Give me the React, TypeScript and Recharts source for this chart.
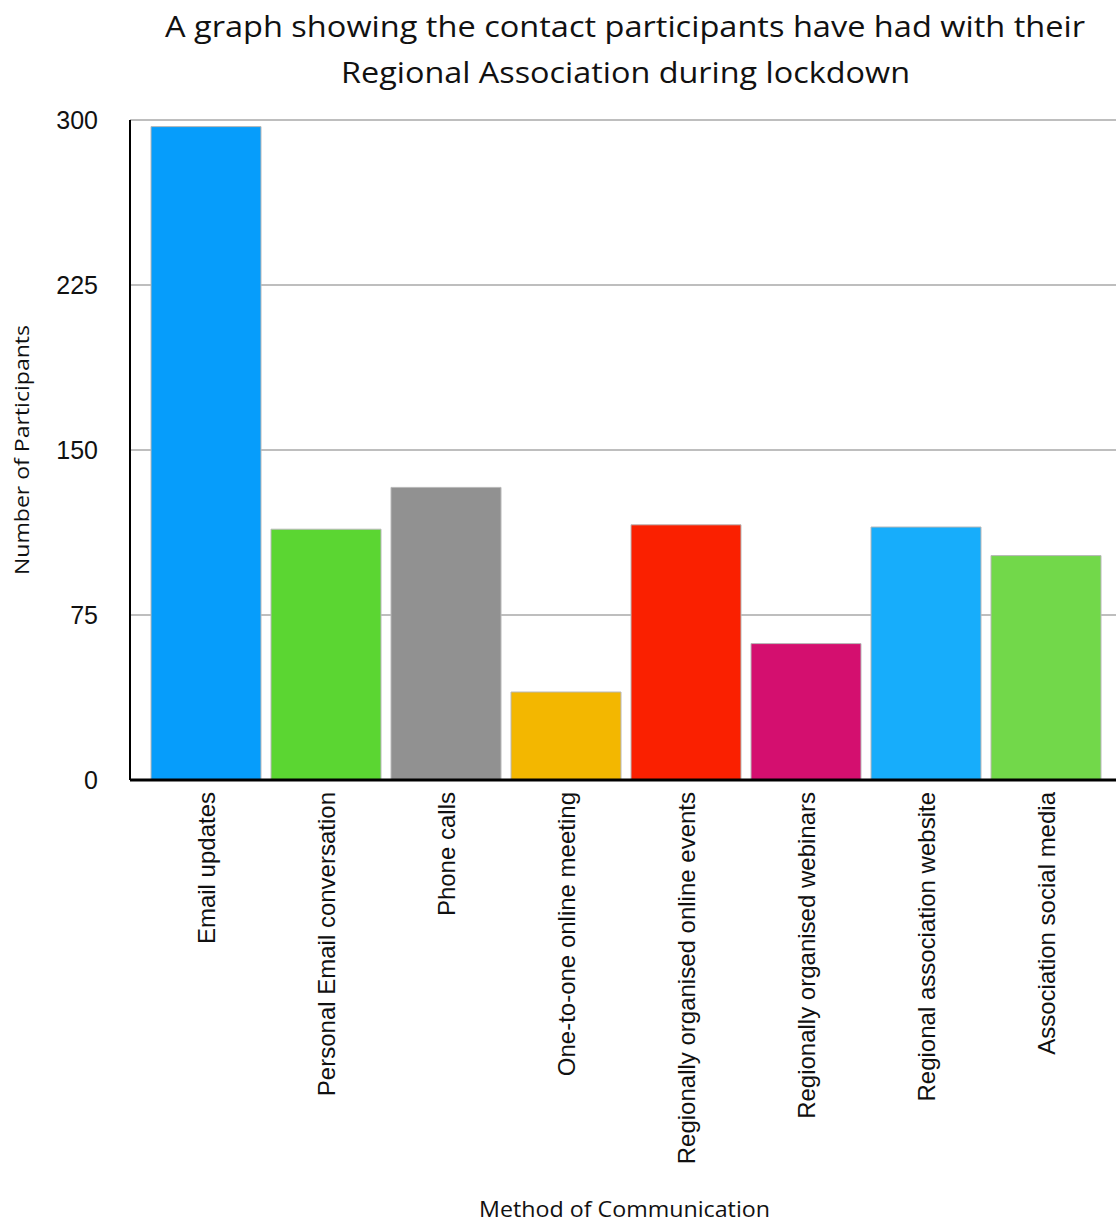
import React from 'react';
import { BarChart, Bar, XAxis, YAxis, CartesianGrid, Cell, Label } from 'recharts';

const categories = [
  'Email updates',
  'Personal Email conversation',
  'Phone calls',
  'One-to-one online meeting',
  'Regionally organised online events',
  'Regionally organised webinars',
  'Regional association website',
  'Association social media',
];
const participants = [297, 114, 133, 40, 116, 62, 115, 102];
const barColors = ['#069dfb', '#5bd632', '#919191', '#f3b700', '#fa2000', '#d40f6f', '#17adfb', '#72d84a'];
const yTicks = [0, 75, 150, 225, 300];
const titleLines = ['A graph showing the contact participants have had with their', 'Regional Association during lockdown'];
const xTitle = 'Method of Communication';
const yTitle = 'Number of Participants';

const data = categories.map((name, i) => ({ name, value: participants[i] }));

const labelFont = '"Open Sans", "Noto Sans", sans-serif';
const tickFont = '"Liberation Sans", Arial, sans-serif';

const XTick = (props: any) => {
  const { x, y, payload } = props;
  return (
    <text
      x={x}
      y={y}
      transform={`rotate(-90, ${x}, ${y})`}
      textAnchor="end"
      dy="0.36em"
      fontFamily={tickFont}
      fontSize={24}
      fill="#111"
    >
      {payload.value}
    </text>
  );
};

const YTick = (props: any) => {
  const { x, y, payload } = props;
  return (
    <text x={x} y={y} dy="0.36em" dx={0} textAnchor="end" fontFamily={tickFont} fontSize={25} fill="#111">
      {payload.value}
    </text>
  );
};

export default function App() {
  return (
    <div style={{ position: 'absolute', left: 0, top: 0, width: 1116, height: 1222, background: '#fff' }}>
      <svg width={1116} height={100} style={{ position: 'absolute', left: 0, top: 0 }}>
        <text x={625} y={37} textAnchor="middle" fontFamily={labelFont} fontSize={30} fill="#111" textLength={920} lengthAdjust="spacingAndGlyphs">
          {titleLines[0]}
        </text>
        <text x={625.5} y={83} textAnchor="middle" fontFamily={labelFont} fontSize={30} fill="#111" textLength={569} lengthAdjust="spacingAndGlyphs">
          {titleLines[1]}
        </text>
      </svg>
      <BarChart
        width={1116}
        height={1222}
        data={data}
        margin={{ top: 120, right: 0, left: 0, bottom: 42 }}
        barCategoryGap={5}
      >
        <CartesianGrid vertical={false} stroke="#a8a8a8" strokeWidth={1.5} />
        <XAxis
          dataKey="name"
          interval={0}
          height={400}
          padding={{ left: 16, right: 10 }}
          tickLine={false}
          tickMargin={6}
          tick={<XTick />}
          axisLine={{ stroke: '#000', strokeWidth: 3 }}
        >
          <Label
            content={() => (
              <text x={624.5} y={1217} textAnchor="middle" fontFamily={labelFont} fontSize={21} fill="#111" textLength={291} lengthAdjust="spacingAndGlyphs">
                {xTitle}
              </text>
            )}
          />
        </XAxis>
        <YAxis
          width={130}
          domain={[0, 300]}
          ticks={yTicks}
          interval={0}
          tickLine={false}
          tickMargin={26}
          tick={<YTick />}
          axisLine={{ stroke: '#000', strokeWidth: 2 }}
        >
          <Label
            content={() => (
              <text
                x={29}
                y={450}
                transform="rotate(-90, 29, 450)"
                textAnchor="middle"
                fontFamily={labelFont}
                fontSize={20}
                fill="#111"
                textLength={250}
                lengthAdjust="spacingAndGlyphs"
              >
                {yTitle}
              </text>
            )}
          />
        </YAxis>
        <Bar dataKey="value" isAnimationActive={false} stroke="#b8b8b8" strokeWidth={1}>
          {data.map((d, i) => (
            <Cell key={d.name} fill={barColors[i]} />
          ))}
        </Bar>
      </BarChart>
    </div>
  );
}
